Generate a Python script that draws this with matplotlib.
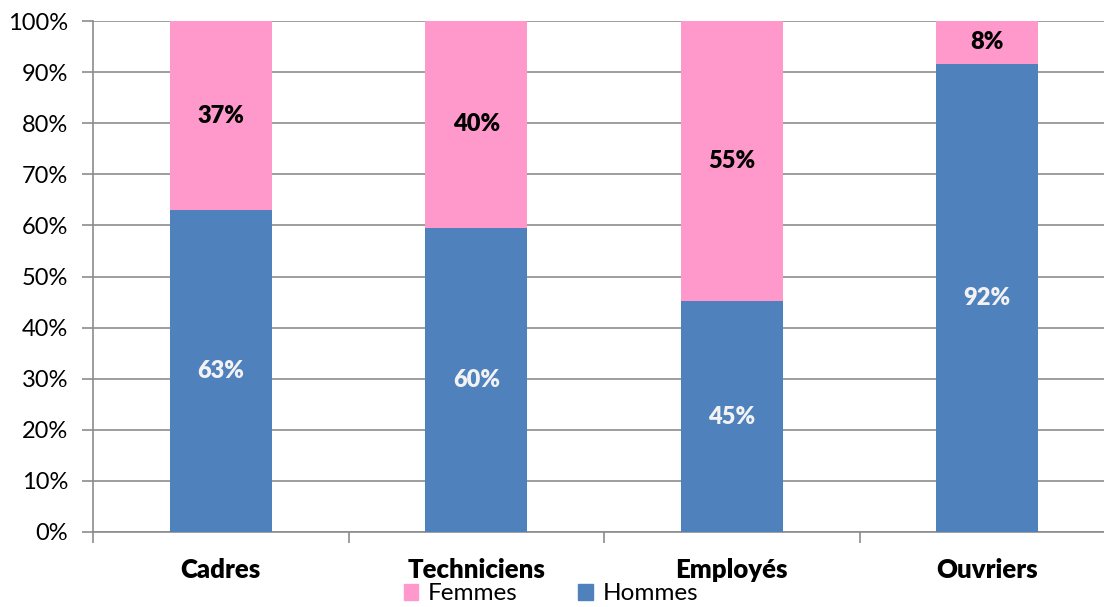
import matplotlib
matplotlib.use("Agg")
import matplotlib.pyplot as plt
import numpy as np
from matplotlib.ticker import MultipleLocator, FixedLocator, PercentFormatter
from matplotlib.patches import Patch

categories = ["Cadres", "Techniciens", "Employés", "Ouvriers"]
hommes = [63, 60, 45, 92]
femmes = [37, 40, 55, 8]
hommes_pos = [63.0, 59.5, 45.2, 91.6]

plt.rcParams['font.family'] = ['Lato', 'DejaVu Sans']

W, H = 1104, 607
fig = plt.figure(figsize=(W/100, H/100), dpi=100)
ax = fig.add_axes([93/W, 1-532/H, 1022/W, 511/H])

blue = "#4F81BD"
pink = "#FF99CC"
x = np.arange(len(categories))
bw = 0.4
ax.bar(x, hommes_pos, bw, color=blue, zorder=3, label="Hommes")
fem_heights = [100 - h for h in hommes_pos]
ax.bar(x, fem_heights, bw, bottom=hommes_pos, color=pink, zorder=3, label="Femmes")

for i in range(len(categories)):
    ax.text(x[i], hommes_pos[i] / 2, f"{hommes[i]}%", ha='center', va='center',
            color="#F2F2F2", fontsize=17, fontweight='heavy', zorder=4)
    ax.text(x[i], hommes_pos[i] + fem_heights[i] / 2, f"{femmes[i]}%", ha='center', va='center',
            color="black", fontsize=17, fontweight='heavy', zorder=4)

ax.set_xlim(-0.5, len(categories) - 0.5)
ax.set_ylim(0, 100)
ax.yaxis.set_major_locator(MultipleLocator(10))
ax.yaxis.set_major_formatter(PercentFormatter(decimals=0))
ax.grid(axis='y', color="#8C8C8C", linewidth=1.2, zorder=0)
ax.set_axisbelow(True)

ax.set_xticks(x)
ax.set_xticklabels(categories, fontsize=18.5, fontweight='heavy')
ax.xaxis.set_minor_locator(FixedLocator(np.arange(-0.5, len(categories), 1.0)))
ax.tick_params(axis='x', which='major', length=0, pad=19)
ax.tick_params(axis='x', which='minor', length=8, width=1.2, color="#8C8C8C")
ax.tick_params(axis='y', length=8, width=1.2, color="#8C8C8C", labelsize=17, pad=10)

for s in ['top', 'right']:
    ax.spines[s].set_visible(False)
for s in ['left', 'bottom']:
    ax.spines[s].set_color("#8C8C8C")
    ax.spines[s].set_linewidth(1.2)

handles = [Patch(color=pink, label="Femmes"), Patch(color=blue, label="Hommes")]
fig.legend(handles=handles, loc='center', bbox_to_anchor=(551/W, 1-594/H), ncol=2,
           frameon=False, fontsize=17.5, handlelength=0.6, handleheight=0.6,
           handletextpad=0.4, columnspacing=2.5, borderpad=0)

fig.savefig("out.png", dpi=100)
